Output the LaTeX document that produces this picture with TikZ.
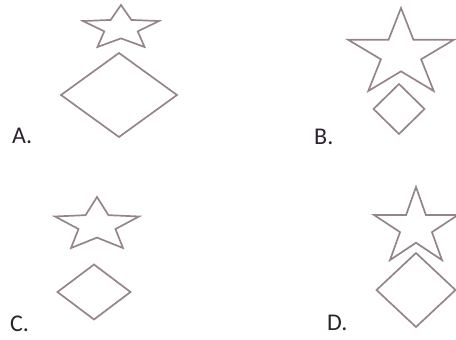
\documentclass[tikz,border=0pt]{standalone}
\usepackage{fontspec}
\setmainfont{Carlito}
\definecolor{ink}{RGB}{150,132,140}
\definecolor{txt}{RGB}{45,35,45}
\tikzset{
  shapeline/.style={draw=ink, line width=1.7pt, line join=miter},
  optlabel/.style={anchor=base west, text=txt, font=\fontsize{24}{28}\selectfont, inner sep=0pt}
}
\newcommand{\mystar}[5]{%
  \begin{scope}[shift={(#1,#2)}, xscale=#3, yscale=#4]
    \draw[shapeline] (90:1) -- (126:#5) -- (162:1) -- (198:#5) -- (234:1) -- (270:#5)
      -- (306:1) -- (342:#5) -- (18:1) -- (54:#5) -- cycle;
  \end{scope}}
\newcommand{\mydiamond}[4]{%
  \draw[shapeline] (#1,#2+#4) -- (#1+#3,#2) -- (#1,#2-#4) -- (#1-#3,#2) -- cycle;}
\begin{document}
\begin{tikzpicture}[x=1pt,y=1pt]
  \useasboundingbox (0,0) rectangle (456,340);
  % A
  \mystar{121}{311.8}{40}{23.2}{0.44}
  \mydiamond{119}{245}{58}{42}
  \node[optlabel] (la) at (12,196) {A.};
  % B
  \mystar{401}{286.1}{55.7}{45.9}{0.38}
  \mydiamond{399}{231}{25.5}{25}
  \node[optlabel] (lb) at (314,195) {B.};
  % C
  \mystar{97}{114.8}{44.2}{28.2}{0.44}
  \mydiamond{94}{48}{36.5}{27.5}
  \node[optlabel] (lc) at (10,8) {C.};
  % D
  \mystar{416}{112.6}{44.2}{40.4}{0.38}
  \mydiamond{416}{50}{39.5}{37}
  \node[optlabel] (ld) at (327,9) {D.};
\end{tikzpicture}
\end{document}
